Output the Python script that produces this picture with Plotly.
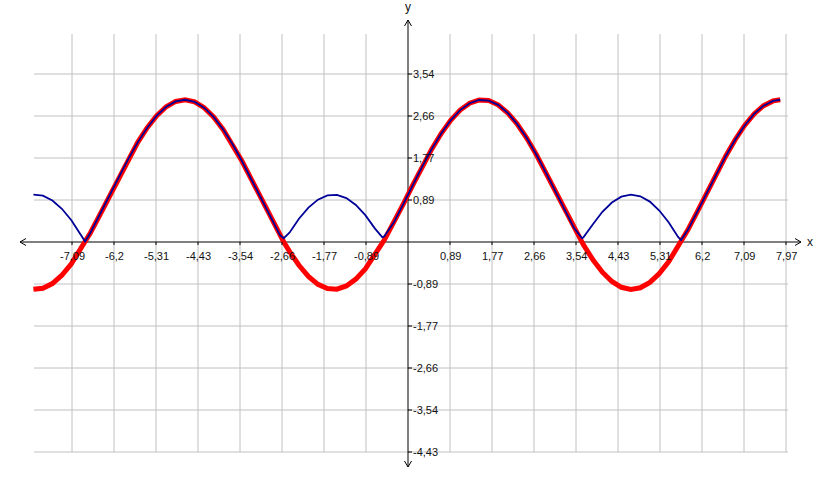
import plotly.graph_objects as go

# ---- data ----
x_vals = [-7.9, -7.7, -7.5, -7.3, -7.1, -6.9, -6.81, -6.7, -6.5, -6.3, -6.1,
          -5.9, -5.7, -5.5, -5.3, -5.1, -4.9, -4.7, -4.5, -4.3, -4.1,
          -3.9, -3.7, -3.5, -3.3, -3.1, -2.9, -2.7, -2.62, -2.5, -2.3, -2.1,
          -1.9, -1.7, -1.5, -1.3, -1.1, -0.9, -0.7, -0.54, -0.5, -0.3, -0.1,
          0.1, 0.3, 0.5, 0.7, 0.9, 1.1, 1.3, 1.5, 1.7, 1.9,
          2.1, 2.3, 2.5, 2.7, 2.9, 3.1, 3.3, 3.5, 3.67, 3.7, 3.9,
          4.1, 4.3, 4.5, 4.7, 4.9, 5.1, 5.3, 5.5, 5.7, 5.76, 5.9,
          6.1, 6.3, 6.5, 6.7, 6.9, 7.1, 7.3, 7.5, 7.7, 7.85]

red_vals = [-0.998, -0.976, -0.876, -0.701, -0.458, -0.157, 0.000, 0.190, 0.570, 0.966, 1.364,
            1.748, 2.101, 2.411, 2.664, 2.852, 2.965, 3.000, 2.955, 2.832, 2.637,
            2.375, 2.060, 1.702, 1.315, 0.917, 0.521, 0.145, 0.000, -0.197, -0.491, -0.726,
            -0.893, -0.983, -0.995, -0.927, -0.782, -0.567, -0.288, -0.020, 0.041, 0.409, 0.800,
            1.200, 1.591, 1.959, 2.288, 2.567, 2.782, 2.927, 2.995, 2.983, 2.893,
            2.726, 2.491, 2.197, 1.855, 1.478, 1.083, 0.685, 0.298, 0.000, -0.060, -0.376,
            -0.637, -0.832, -0.955, -1.000, -0.965, -0.852, -0.664, -0.411, -0.101, 0.000, 0.252,
            0.636, 1.034, 1.430, 1.810, 2.157, 2.458, 2.701, 2.876, 2.976, 3.000]

blue_vals = [0.998, 0.976, 0.876, 0.701, 0.458, 0.157, 0.010, 0.190, 0.570, 0.966, 1.364,
             1.748, 2.101, 2.411, 2.664, 2.852, 2.965, 3.000, 2.955, 2.832, 2.637,
             2.375, 2.060, 1.702, 1.315, 0.917, 0.521, 0.145, 0.080, 0.197, 0.491, 0.726,
             0.893, 0.983, 0.995, 0.927, 0.782, 0.567, 0.288, 0.100, 0.120, 0.409, 0.800,
             1.200, 1.591, 1.959, 2.288, 2.567, 2.782, 2.927, 2.995, 2.983, 2.893,
             2.726, 2.491, 2.197, 1.855, 1.478, 1.083, 0.685, 0.298, 0.080, 0.100, 0.376,
             0.637, 0.832, 0.955, 1.000, 0.965, 0.852, 0.664, 0.411, 0.101, 0.040, 0.252,
             0.636, 1.034, 1.430, 1.810, 2.157, 2.458, 2.701, 2.876, 2.976, 3.000]

x_tick_labels = ["-7,09", "-6,2", "-5,31", "-4,43", "-3,54", "-2,66", "-1,77", "-0,89",
                 "0,89", "1,77", "2,66", "3,54", "4,43", "5,31", "6,2", "7,09", "7,97"]
x_tick_steps = [-8, -7, -6, -5, -4, -3, -2, -1, 1, 2, 3, 4, 5, 6, 7, 8, 9]
y_tick_labels = ["3,54", "2,66", "1,77", "0,89", "-0,89", "-1,77", "-2,66", "-3,54", "-4,43"]
y_tick_steps = [4, 3, 2, 1, -1, -2, -3, -4, -5]

# ---- geometry ----
STEP = 0.8858
S = 42 / STEP            # pixels per unit
W, H = 820, 485
X0, Y0 = 408, 242        # pixel position of origin
px = lambda p: p / S     # pixel length -> data length

x_range = [-X0 / S, (W - X0) / S]
y_range = [-(H - Y0) / S, Y0 / S]

grid_left, grid_right = -px(374), px(380)
grid_bottom, grid_top = -5 * STEP, px(208)

shapes = []
grid_col = "#c0c0c0"
for k in range(-8, 10):
    if k == 0:
        continue
    shapes.append(dict(type="line", x0=k * STEP, x1=k * STEP, y0=grid_bottom, y1=grid_top,
                       line=dict(color=grid_col, width=1), layer="below"))
for k in range(-5, 5):
    if k == 0:
        continue
    shapes.append(dict(type="line", x0=grid_left, x1=grid_right, y0=k * STEP, y1=k * STEP,
                       line=dict(color=grid_col, width=1), layer="below"))

ax_col = "black"
shapes.append(dict(type="line", x0=-px(388), x1=px(393), y0=0, y1=0,
                   line=dict(color=ax_col, width=1), layer="below"))
shapes.append(dict(type="line", x0=0, x1=0, y0=-px(225), y1=px(222),
                   line=dict(color=ax_col, width=1), layer="below"))
ah, aw = px(6), px(3.5)
tipL, tipR, tipT, tipB = -px(388), px(393), px(222), -px(225)
shapes.append(dict(type="path", path=f"M {tipL+ah},{aw} L {tipL},0 L {tipL+ah},{-aw}",
                   line=dict(color=ax_col, width=1)))
shapes.append(dict(type="path", path=f"M {tipR-ah},{aw} L {tipR},0 L {tipR-ah},{-aw}",
                   line=dict(color=ax_col, width=1)))
shapes.append(dict(type="path", path=f"M {-aw},{tipT-ah} L 0,{tipT} L {aw},{tipT-ah}",
                   line=dict(color=ax_col, width=1)))
shapes.append(dict(type="path", path=f"M {-aw},{tipB+ah} L 0,{tipB} L {aw},{tipB+ah}",
                   line=dict(color=ax_col, width=1)))
for k in x_tick_steps:
    shapes.append(dict(type="line", x0=k * STEP, x1=k * STEP, y0=0, y1=-px(3),
                       line=dict(color=ax_col, width=1)))
for k in y_tick_steps:
    shapes.append(dict(type="line", x0=0, x1=px(4), y0=k * STEP, y1=k * STEP,
                       line=dict(color=ax_col, width=1)))

font = dict(family="Liberation Sans, Arial, sans-serif", size=11, color="#111111")
annotations = []
for lab, k in zip(x_tick_labels, x_tick_steps):
    annotations.append(dict(x=k * STEP, y=0, text=lab, showarrow=False, xanchor="center",
                            yanchor="middle", yshift=-14, font=font))
for lab, k in zip(y_tick_labels, y_tick_steps):
    annotations.append(dict(x=0, y=k * STEP, text=lab, showarrow=False, xanchor="left",
                            yanchor="middle", xshift=3, font=font))
annotations.append(dict(x=tipR, y=0, text="x", showarrow=False, xanchor="left",
                        yanchor="middle", xshift=4, font=dict(family=font["family"], size=12, color="#111111")))
annotations.append(dict(x=0, y=tipT, text="y", showarrow=False, xanchor="center",
                        yanchor="bottom", yshift=4, font=dict(family=font["family"], size=12, color="#111111")))

fig = go.Figure()
fig.add_trace(go.Scatter(x=x_vals, y=red_vals, mode="lines",
                         line=dict(color="#ff0000", width=5), hoverinfo="skip"))
fig.add_trace(go.Scatter(x=x_vals, y=blue_vals, mode="lines",
                         line=dict(color="#000099", width=1.8), hoverinfo="skip"))

fig.update_layout(
    width=W, height=H, margin=dict(l=0, r=0, t=0, b=0),
    paper_bgcolor="white", plot_bgcolor="white", showlegend=False,
    xaxis=dict(range=x_range, visible=False, fixedrange=True),
    yaxis=dict(range=y_range, visible=False, fixedrange=True),
    shapes=shapes, annotations=annotations,
)

fig.write_html("out.html", post_script="document.body.style.margin='0';",
               config=dict(displayModeBar=False))
